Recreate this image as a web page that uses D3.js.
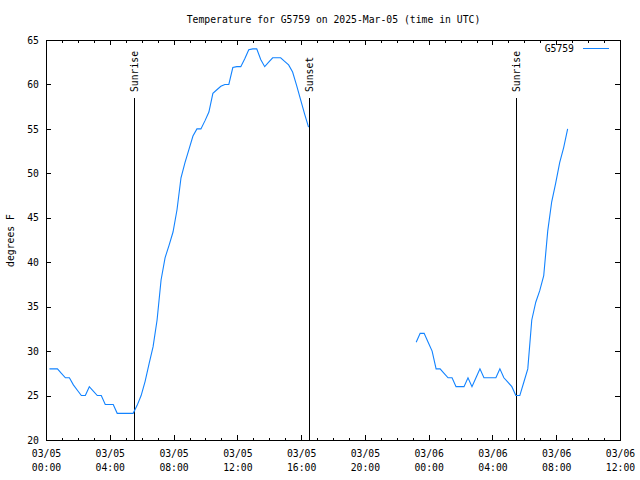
<!DOCTYPE html>
<html>
<head>
<meta charset="utf-8">
<script src="https://cdn.jsdelivr.net/npm/d3@7"></script>
<style>
  html, body { margin: 0; padding: 0; background: #fff; }
  svg { display: block; }
  text { font-family: "DejaVu Sans Mono", "Liberation Mono", monospace; font-size: 9.75px; fill: #000; }
</style>
</head>
<body>
<svg id="chart" width="640" height="480"></svg>
<script>
// ---------------- data ----------------
const titleText = "Temperature for G5759 on 2025-Mar-05 (time in UTC)";
const seriesName = "G5759";
const yLabel = "degrees F";

// segment 1 : 03/05 morning to sunset
const seg1Times = [
  "03/05 00:13","03/05 00:28","03/05 00:43","03/05 00:58","03/05 01:13","03/05 01:28","03/05 01:43","03/05 01:58",
  "03/05 02:13","03/05 02:28","03/05 02:43","03/05 02:58","03/05 03:13","03/05 03:28","03/05 03:43","03/05 03:58",
  "03/05 04:13","03/05 04:28","03/05 04:43","03/05 04:58","03/05 05:13","03/05 05:28","03/05 05:43","03/05 05:58",
  "03/05 06:13","03/05 06:28","03/05 06:43","03/05 06:58","03/05 07:13","03/05 07:28","03/05 07:43","03/05 07:58",
  "03/05 08:13","03/05 08:28","03/05 08:43","03/05 08:58","03/05 09:13","03/05 09:28","03/05 09:43","03/05 09:58",
  "03/05 10:13","03/05 10:28","03/05 10:43","03/05 10:58","03/05 11:13","03/05 11:28","03/05 11:43","03/05 11:58",
  "03/05 12:13","03/05 12:28","03/05 12:43","03/05 12:58","03/05 13:13","03/05 13:28","03/05 13:43","03/05 13:58",
  "03/05 14:13","03/05 14:28","03/05 14:43","03/05 14:58","03/05 15:13","03/05 15:28","03/05 15:43","03/05 15:58",
  "03/05 16:13","03/05 16:28"
];
const seg1Temps = [
  28, 28, 28, 27.5, 27, 27, 26.2, 25.6, 25, 25,
  26, 25.5, 25, 25, 24, 24, 24, 23, 23, 23,
  23, 23, 23.9, 25, 26.6, 28.6, 30.5, 33.5, 38, 40.5,
  41.9, 43.4, 45.9, 49.5, 51.2, 52.7, 54.2, 55, 55, 55.9,
  56.9, 59, 59.4, 59.8, 60, 60, 61.9, 62, 62, 62.9,
  63.9, 64, 64, 62.8, 62, 62.5, 63, 63, 63, 62.6,
  62.2, 61.4, 59.9, 58.3, 56.7, 55.2
];

// segment 2 : 03/05 late evening to 03/06 morning
const seg2Times = [
  "03/05 23:13","03/05 23:28","03/05 23:43","03/05 23:58",
  "03/06 00:13","03/06 00:28","03/06 00:43","03/06 00:58","03/06 01:13","03/06 01:28","03/06 01:43","03/06 01:58",
  "03/06 02:13","03/06 02:28","03/06 02:43","03/06 02:58","03/06 03:13","03/06 03:28","03/06 03:43","03/06 03:58",
  "03/06 04:13","03/06 04:28","03/06 04:43","03/06 04:58","03/06 05:13","03/06 05:28","03/06 05:43","03/06 05:58",
  "03/06 06:13","03/06 06:28","03/06 06:43","03/06 06:58","03/06 07:13","03/06 07:28","03/06 07:43","03/06 07:58",
  "03/06 08:13","03/06 08:28","03/06 08:43"
];
const seg2Temps = [
  31, 32, 32, 31, 30, 28, 28, 27.5, 27, 27,
  26, 26, 26, 27, 26, 27, 28, 27, 27, 27,
  27, 28, 27, 26.5, 26, 25, 25, 26.5, 28, 33.5,
  35.5, 36.8, 38.5, 43.5, 46.8, 48.9, 51.2, 52.9, 55
];

const sunLabels = ["Sunrise", "Sunset", "Sunrise"];
const sunTimes  = ["03/05 05:30", "03/05 16:30", "03/06 05:30"];

const xDomainTimes = ["03/05 00:00", "03/06 12:00"];
const yDomain = [20, 65];
const yTickValues = [20, 25, 30, 35, 40, 45, 50, 55, 60, 65];

// ---------------- drawing ----------------
const parseT = s => d3.utcParse("%Y/%m/%d %H:%M")("2025/" + s);
const svg = d3.select("#chart");

const L = 46, R = 620, T = 40, B = 440;
const x = d3.scaleUtc().domain(xDomainTimes.map(parseT)).range([L, R]);
const y = d3.scaleLinear().domain(yDomain).range([B, T]);

const majorX = d3.utcHour.every(4);
const minorX = d3.utcHour.every(1);

// minor x ticks (bottom & top)
svg.append("g").attr("transform", `translate(0,${B})`)
  .call(d3.axisBottom(x).ticks(minorX).tickSize(-2.5).tickFormat(""))
  .call(g => g.select(".domain").remove());
svg.append("g").attr("transform", `translate(0,${T})`)
  .call(d3.axisTop(x).ticks(minorX).tickSize(-2.5).tickFormat(""))
  .call(g => g.select(".domain").remove());

// major x ticks with labels
const fmtD = d3.utcFormat("%m/%d"), fmtH = d3.utcFormat("%H:%M");
const gx = svg.append("g").attr("transform", `translate(0,${B})`)
  .call(d3.axisBottom(x).ticks(majorX).tickSize(-5).tickPadding(17))
  .call(g => g.select(".domain").remove());
gx.selectAll(".tick text").each(function(d) {
  const t = d3.select(this);
  t.text(null).attr("y", null).attr("dy", null);
  t.append("tspan").attr("x", 0).attr("y", 17).text(fmtD(d));
  t.append("tspan").attr("x", 0).attr("y", 31).text(fmtH(d));
});
svg.append("g").attr("transform", `translate(0,${T})`)
  .call(d3.axisTop(x).ticks(majorX).tickSize(-5).tickFormat(""))
  .call(g => g.select(".domain").remove());

// y axes
svg.append("g").attr("transform", `translate(${L},0)`)
  .call(d3.axisLeft(y).tickValues(yTickValues).tickSize(-5).tickPadding(7))
  .call(g => g.select(".domain").remove());
svg.append("g").attr("transform", `translate(${R},0)`)
  .call(d3.axisRight(y).tickValues(yTickValues).tickSize(-5).tickFormat(""))
  .call(g => g.select(".domain").remove());

svg.selectAll(".tick line").attr("stroke", "#000").attr("shape-rendering", "crispEdges");
svg.selectAll(".tick text").attr("font-family", null).attr("font-size", null).attr("fill", "#000");

// frame
svg.append("rect")
  .attr("x", L + 0.5).attr("y", T + 0.5)
  .attr("width", R - L).attr("height", B - T)
  .attr("fill", "none").attr("stroke", "#000").attr("stroke-width", 1)
  .attr("shape-rendering", "crispEdges");

// sunrise / sunset markers
sunTimes.forEach((s, i) => {
  const xp = Math.round(x(parseT(s))) + 0.5;
  svg.append("line")
    .attr("x1", xp).attr("x2", xp).attr("y1", 98).attr("y2", B)
    .attr("stroke", "#000").attr("stroke-width", 1).attr("shape-rendering", "crispEdges");
  svg.append("text")
    .attr("transform", `translate(${xp + 3.5},92) rotate(-90)`)
    .attr("text-anchor", "start")
    .text(sunLabels[i]);
});

// temperature line
const lineGen = d3.line().x(d => x(d[0])).y(d => y(d[1]));
const color = "#1283ff";
[[seg1Times, seg1Temps], [seg2Times, seg2Temps]].forEach(([ts, vs]) => {
  const pts = ts.map((t, i) => [parseT(t), vs[i]]);
  svg.append("path").attr("d", lineGen(pts))
    .attr("fill", "none").attr("stroke", color).attr("stroke-width", 1.1);
});

// title
svg.append("text").attr("x", (L + R) / 2 + 0.5).attr("y", 23)
  .attr("text-anchor", "middle").text(titleText);

// y label
svg.append("text").attr("transform", "translate(14,240.5) rotate(-90)")
  .attr("text-anchor", "middle").text(yLabel);

// legend
svg.append("text").attr("x", 574).attr("y", 52).attr("text-anchor", "end").text(seriesName);
svg.append("line").attr("x1", 583).attr("x2", 609).attr("y1", 48.5).attr("y2", 48.5)
  .attr("stroke", color).attr("stroke-width", 1);
</script>
</body>
</html>
